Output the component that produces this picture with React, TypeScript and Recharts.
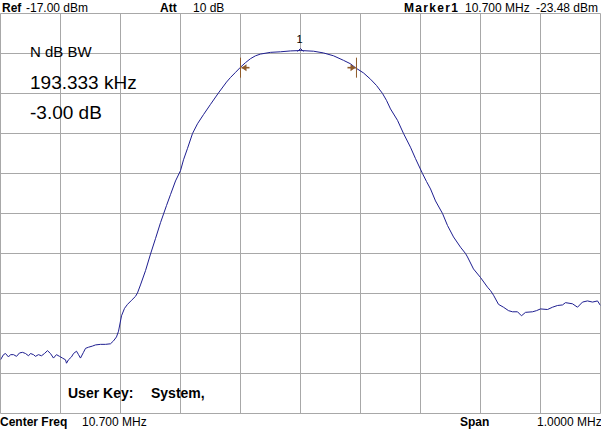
import React from 'react';
import { LineChart, Line, XAxis, YAxis, CartesianGrid, ReferenceDot } from 'recharts';

// Trace: frequency (MHz) and level (dBm)
const freqMHz = [
  10.2, 10.205, 10.2083, 10.2133, 10.2167, 10.2217, 10.2267, 10.2317, 10.2367, 10.2417,
  10.2467, 10.25, 10.255, 10.2583, 10.2633, 10.2683, 10.2733, 10.2783, 10.2833, 10.2883,
  10.2933, 10.2983, 10.3033, 10.3083, 10.31, 10.3133, 10.3183, 10.3217, 10.3267, 10.33,
  10.3333, 10.3383, 10.3417, 10.3467, 10.3533, 10.3583, 10.3667, 10.375, 10.3833, 10.3883,
  10.3933, 10.3967, 10.4017, 10.4067, 10.4117, 10.4183, 10.425, 10.4283, 10.4333, 10.4417,
  10.45, 10.4583, 10.4667, 10.4717, 10.4767, 10.4833, 10.4917, 10.5, 10.505, 10.5117,
  10.52, 10.5283, 10.5383, 10.55, 10.5633, 10.5767, 10.5833, 10.5917, 10.6, 10.6083,
  10.6167, 10.625, 10.6333, 10.65, 10.6667, 10.6833, 10.7, 10.7217, 10.7383, 10.755,
  10.7717, 10.7833, 10.7917, 10.805, 10.8167, 10.8267, 10.8367, 10.8433, 10.85, 10.8617,
  10.8717, 10.8833, 10.8917, 10.9033, 10.91, 10.9167, 10.925, 10.9367, 10.945, 10.955,
  10.9667, 10.975, 10.9783, 10.9883, 11.0, 11.0117, 11.0167, 11.0217, 11.03, 11.0383,
  11.0467, 11.0533, 11.0617, 11.0683, 11.075, 11.0867, 11.0933, 11.1, 11.1117, 11.12,
  11.1283, 11.1367, 11.1417, 11.1533, 11.1617, 11.17, 11.1783, 11.1867, 11.195, 11.2,
];
const levelDbm = [
  -77.6, -76.7, -76.5, -77.1, -76.7, -76.7, -77.0, -76.4, -76.3, -76.5,
  -76.9, -76.5, -76.7, -77.0, -76.7, -76.9, -76.5, -76.0, -76.5, -77.3,
  -76.7, -77.0, -77.3, -77.6, -78.2, -77.6, -77.1, -76.5, -76.1, -76.7,
  -77.3, -76.3, -75.6, -75.4, -75.2, -75.0, -74.9, -74.9, -74.8, -74.3,
  -73.6, -72.6, -69.9, -68.6, -67.9, -67.2, -66.5, -65.9, -64.5, -62.0,
  -59.1, -56.4, -53.6, -52.1, -50.6, -48.7, -46.3, -44.5, -42.6, -40.6,
  -38.0, -36.3, -34.7, -32.9, -30.9, -29.0, -28.2, -27.3, -26.4, -25.6,
  -24.9, -24.4, -24.1, -23.8, -23.7, -23.55, -23.48, -23.6, -23.9, -24.4,
  -25.2, -25.8, -26.5, -27.4, -28.5, -29.6, -31.0, -32.2, -33.7, -35.7,
  -38.0, -40.4, -42.4, -45.0, -46.4, -47.7, -49.8, -52.0, -54.1, -56.1,
  -57.9, -59.0, -59.6, -61.7, -63.2, -64.9, -65.5, -66.3, -67.9, -68.4,
  -69.0, -69.2, -69.2, -69.9, -69.3, -69.2, -69.0, -68.7, -68.8, -68.4,
  -68.1, -68.0, -67.6, -67.8, -68.4, -67.5, -67.3, -67.5, -67.3, -68.1,
];

// Grid / axis ticks
const freqTicks = [10.2, 10.3, 10.4, 10.5, 10.6, 10.7, 10.8, 10.9, 11.0, 11.1, 11.2];
const levelTicks = [-87, -80, -73, -66, -59, -52, -45, -38, -31, -24, -17];

// Markers
const peakFreq = 10.7;
const peakLevel = -23.48;
const ndbLeftFreq = 10.6;
const ndbRightFreq = 10.7933;
const ndbLevel = -26.48;

const data = freqMHz.map((f, i) => ({ f, v: levelDbm[i] }));

const TRACE = '#1e1e90';
const GRID = '#a8a8a8';
const MARK = '#8e5b2a';
const FONT = '"Liberation Sans", Arial, sans-serif';

const PeakShape = (props: any) => {
  const { cx, cy } = props;
  return (
    <g>
      <path d={`M${cx - 3},${cy + 1} L${cx},${cy - 2} L${cx + 3},${cy + 1}`} fill="none" stroke={TRACE} strokeWidth={1} />
      <text x={cx - 1} y={cy - 8} fontFamily={FONT} fontSize={11} textAnchor="middle" fill="#000">1</text>
    </g>
  );
};

const makeNdbShape = (dir: number) => (props: any) => {
  const { cx, cy } = props;
  return (
    <g>
      <line x1={cx} y1={cy - 10} x2={cx} y2={cy + 10} stroke={MARK} strokeWidth={1} />
      <line x1={cx + dir * 1} y1={cy} x2={cx + dir * 9} y2={cy} stroke={MARK} strokeWidth={1.6} />
      <path d={`M${cx + dir * 1},${cy} L${cx + dir * 6},${cy - 3.5} L${cx + dir * 6},${cy + 3.5} Z`} fill={MARK} />
    </g>
  );
};
const LeftNdb = makeNdbShape(1);
const RightNdb = makeNdbShape(-1);

export default function App() {
  return (
    <div style={{ position: 'absolute', left: 0, top: 0, width: 601, height: 429, background: '#fff', overflow: 'hidden' }}>
      <LineChart width={601} height={429} data={data} margin={{ top: 13.5, right: 0.5, bottom: 15.5, left: 0.5 }}>
        <CartesianGrid stroke={GRID} strokeWidth={1} />
        <XAxis dataKey="f" type="number" domain={[10.2, 11.2]} ticks={freqTicks} hide allowDataOverflow />
        <YAxis type="number" domain={[-87, -17]} ticks={levelTicks} hide allowDataOverflow />
        <Line dataKey="v" type="linear" stroke={TRACE} strokeWidth={1} dot={false} isAnimationActive={false} />
        <ReferenceDot x={ndbLeftFreq} y={ndbLevel} shape={LeftNdb} />
        <ReferenceDot x={ndbRightFreq} y={ndbLevel} shape={RightNdb} />
        <ReferenceDot x={peakFreq} y={peakLevel} shape={PeakShape} />
      </LineChart>
      <svg width={601} height={429} style={{ position: 'absolute', left: 0, top: 0, pointerEvents: 'none' }} fontFamily={FONT} fill="#000">
        <text x={2} y={11.5} fontSize={12} fontWeight="bold">Ref</text>
        <text x={26} y={11.5} fontSize={12}>-17.00 dBm</text>
        <text x={160} y={11.5} fontSize={12} fontWeight="bold">Att</text>
        <text x={193} y={11.5} fontSize={12}>10 dB</text>
        <text x={404} y={11.5} fontSize={12} fontWeight="bold" textLength={54} lengthAdjust="spacing">Marker1</text>
        <text x={465} y={11.5} fontSize={12}>10.700 MHz</text>
        <text x={536} y={11.5} fontSize={12}>-23.48 dBm</text>

        <text x={30} y={57} fontSize={15}>N dB BW</text>
        <text x={30} y={88.5} fontSize={19}>193.333 kHz</text>
        <text x={30} y={118.5} fontSize={19}>-3.00 dB</text>

        <text x={68} y={397.5} fontSize={14} fontWeight="bold">User Key:</text>
        <text x={151} y={397.5} fontSize={14} fontWeight="bold">System,</text>

        <text x={0} y={425.5} fontSize={12} fontWeight="bold">Center Freq</text>
        <text x={82} y={425.5} fontSize={12}>10.700 MHz</text>
        <text x={460} y={425.5} fontSize={12} fontWeight="bold">Span</text>
        <text x={537} y={425.5} fontSize={12}>1.0000 MHz</text>
      </svg>
    </div>
  );
}
